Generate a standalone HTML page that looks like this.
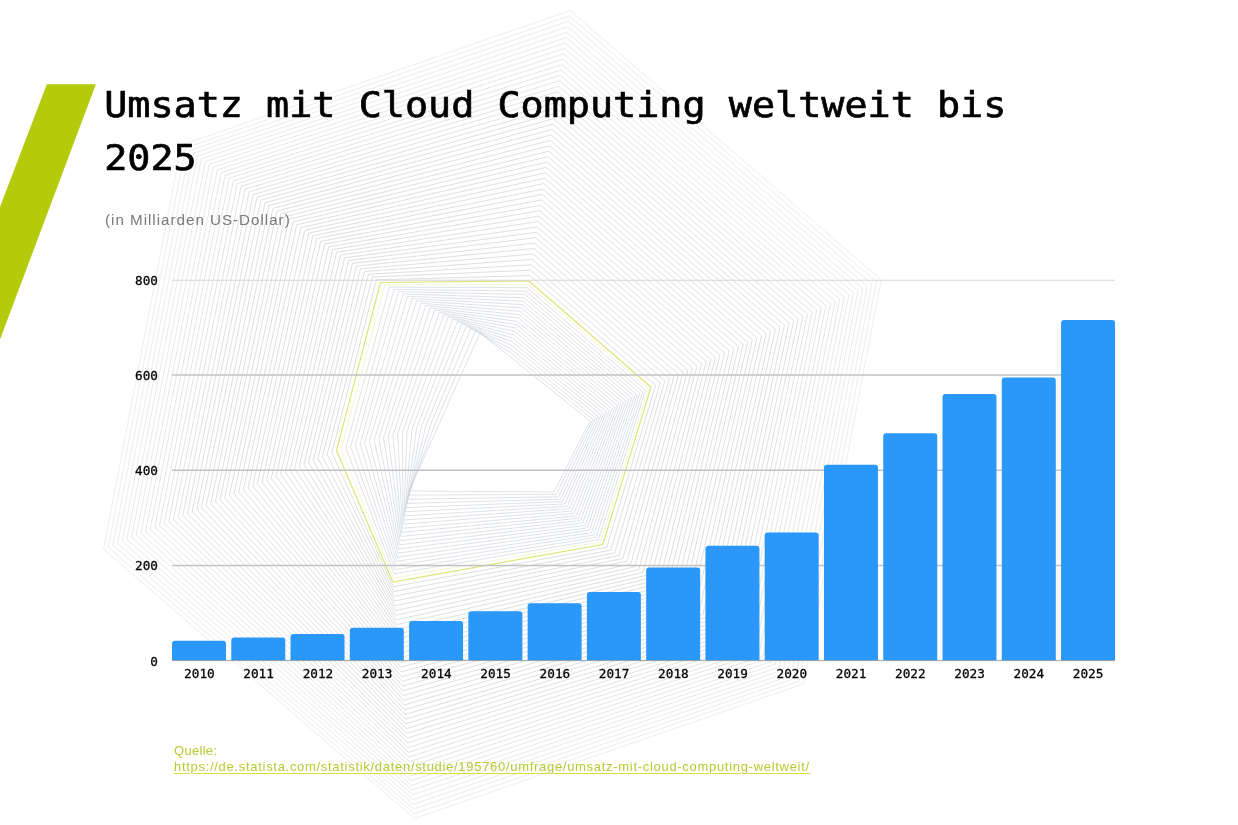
<!DOCTYPE html>
<html lang="de"><head><meta charset="utf-8"><title>Umsatz mit Cloud Computing weltweit bis 2025</title>
<style>
html,body{margin:0;padding:0;background:#fff;}
body{width:1238px;height:825px;position:relative;overflow:hidden;font-family:"Liberation Sans",sans-serif;}
svg{position:absolute;left:0;top:0;display:block}
.title{position:absolute;left:104.2px;top:77.8px;width:1100px;margin:0;font-family:"DejaVu Sans Mono","Liberation Mono",monospace;font-weight:400;font-size:38.44px;line-height:59.2px;color:#000;white-space:pre;-webkit-text-stroke:0.75px #000;transform:scaleY(0.905);transform-origin:0 0;}
.sub{position:absolute;left:105px;top:210px;margin:0;font-size:15.2px;line-height:20px;color:#7a7a7a;white-space:nowrap;letter-spacing:0.98px}
.src{position:absolute;left:174px;top:742.7px;margin:0;font-size:13px;line-height:16.1px;color:#b9ca30;white-space:nowrap;letter-spacing:0.3px}
.src a{color:#b9ca30;text-decoration:underline;text-decoration-color:#d2e03c;text-underline-offset:2.1px;text-decoration-thickness:1.2px;letter-spacing:0.7px}
.tick{font-family:"DejaVu Sans Mono","Liberation Mono",monospace;font-weight:400;font-size:12.7px;fill:#000;stroke:#000;stroke-width:0.28px}
.tick text{transform-box:fill-box;transform-origin:50% 70%;transform:scaleY(0.91)}
</style></head><body>
<svg width="1238" height="825" viewBox="0 0 1238 825" xmlns="http://www.w3.org/2000/svg">
<g fill="none" stroke="#bcbfc2" stroke-width="0.6">
<polygon points="570.2,10.5 881.2,279.9 803.4,683.9 414.6,818.5 103.6,549.1 181.4,145.1" stroke-opacity="0.45"/>
<polygon points="569.4,15.9 876.5,282.0 799.3,681.1 414.2,813.8 108.3,547.1 185.4,147.9" stroke-opacity="0.47"/>
<polygon points="568.5,21.3 871.9,284.2 795.3,678.3 413.7,809.0 113.0,545.2 189.4,150.6" stroke-opacity="0.49"/>
<polygon points="567.7,26.8 867.3,286.3 791.3,675.5 413.3,804.3 117.6,543.2 193.4,153.4" stroke-opacity="0.51"/>
<polygon points="566.9,32.2 862.7,288.5 787.3,672.7 412.9,799.6 122.3,541.2 197.4,156.1" stroke-opacity="0.53"/>
<polygon points="566.1,37.6 858.1,290.6 783.3,669.9 412.4,794.8 126.9,539.3 201.3,158.9" stroke-opacity="0.55"/>
<polygon points="565.3,43.0 853.5,292.8 779.3,667.1 412.0,790.1 131.6,537.3 205.3,161.6" stroke-opacity="0.57"/>
<polygon points="564.4,48.4 848.9,294.9 775.3,664.3 411.6,785.4 136.2,535.3 209.3,164.4" stroke-opacity="0.59"/>
<polygon points="563.6,53.8 844.3,297.1 771.3,661.6 411.1,780.7 140.9,533.4 213.3,167.1" stroke-opacity="0.61"/>
<polygon points="562.8,59.2 839.7,299.2 767.3,658.8 410.7,775.9 145.6,531.4 217.3,169.9" stroke-opacity="0.63"/>
<polygon points="562.0,64.6 835.1,301.4 763.2,656.0 410.2,771.2 150.2,529.4 221.2,172.6" stroke-opacity="0.65"/>
<polygon points="561.1,70.0 830.5,303.5 759.2,653.2 409.8,766.5 154.9,527.4 225.2,175.4" stroke-opacity="0.67"/>
<polygon points="560.3,75.4 825.9,305.7 755.2,650.4 409.4,761.7 159.5,525.5 229.2,178.1" stroke-opacity="0.69"/>
<polygon points="559.5,80.8 821.3,307.8 751.2,647.6 408.9,757.0 164.2,523.5 233.2,180.9" stroke-opacity="0.71"/>
<polygon points="558.7,86.3 816.7,310.0 747.2,644.8 408.5,752.3 168.8,521.5 237.2,183.6" stroke-opacity="0.73"/>
<polygon points="557.8,91.7 812.1,312.1 743.2,642.1 408.1,747.6 173.5,519.6 241.1,186.3" stroke-opacity="0.75"/>
<polygon points="557.0,97.1 807.5,314.3 739.2,639.3 407.6,742.8 178.2,517.6 245.1,189.1" stroke-opacity="0.77"/>
<polygon points="556.2,102.5 802.9,316.4 735.2,636.5 407.2,738.1 182.8,515.6 249.1,191.8" stroke-opacity="0.79"/>
<polygon points="555.4,107.9 798.3,318.6 731.2,633.7 406.8,733.4 187.5,513.7 253.1,194.6" stroke-opacity="0.81"/>
<polygon points="554.5,113.3 793.7,320.7 727.1,630.9 406.3,728.7 192.1,511.7 257.0,197.3" stroke-opacity="0.83"/>
<polygon points="553.7,118.7 789.1,322.8 723.1,628.1 405.9,723.9 196.8,509.7 261.0,200.1" stroke-opacity="0.85"/>
<polygon points="552.9,124.1 784.5,325.0 719.1,625.3 405.4,719.2 201.4,507.7 265.0,202.8" stroke-opacity="0.85"/>
<polygon points="552.1,129.5 779.9,327.1 715.1,622.5 405.0,714.5 206.1,505.8 269.0,205.6" stroke-opacity="0.85"/>
<polygon points="551.2,134.9 775.3,329.3 711.1,619.8 404.6,709.7 210.8,503.8 273.0,208.3" stroke-opacity="0.85"/>
<polygon points="550.4,140.4 770.7,331.4 707.1,617.0 404.1,705.0 215.4,501.8 276.9,211.1" stroke-opacity="0.85"/>
<polygon points="549.6,145.8 766.1,333.6 703.1,614.2 403.7,700.3 220.1,499.9 280.9,213.8" stroke-opacity="0.85"/>
<polygon points="548.8,151.2 761.5,335.7 699.1,611.4 403.3,695.6 224.7,497.9 284.9,216.6" stroke-opacity="0.85"/>
<polygon points="547.9,156.6 756.9,337.9 695.1,608.6 402.8,690.8 229.4,495.9 288.9,219.3" stroke-opacity="0.85"/>
<polygon points="547.1,162.0 752.3,340.0 691.0,605.8 402.4,686.1 234.0,493.9 292.9,222.1" stroke-opacity="0.85"/>
<polygon points="546.3,167.4 747.7,342.2 687.0,603.0 402.0,681.4 238.7,492.0 296.8,224.8" stroke-opacity="0.85"/>
<polygon points="545.5,172.8 743.1,344.3 683.0,600.2 401.5,676.7 243.4,490.0 300.8,227.6" stroke-opacity="0.85"/>
<polygon points="544.7,178.2 738.5,346.5 679.0,597.5 401.1,671.9 248.0,488.0 304.8,230.3" stroke-opacity="0.85"/>
<polygon points="543.8,183.6 733.9,348.6 675.0,594.7 400.7,667.2 252.7,486.1 308.8,233.1" stroke-opacity="0.85"/>
<polygon points="543.0,189.0 729.3,350.8 671.0,591.9 400.2,662.5 257.3,484.1 312.8,235.8" stroke-opacity="0.85"/>
<polygon points="542.2,194.4 724.6,352.9 667.0,589.1 399.8,657.7 262.0,482.1 316.7,238.5" stroke-opacity="0.85"/>
<polygon points="541.4,199.9 720.0,355.1 663.0,586.3 399.3,653.0 266.6,480.2 320.7,241.3" stroke-opacity="0.85"/>
<polygon points="540.5,205.3 715.4,357.2 659.0,583.5 398.9,648.3 271.3,478.2 324.7,244.0" stroke-opacity="0.85"/>
<polygon points="539.7,210.7 710.8,359.4 654.9,580.7 398.5,643.6 276.0,476.2 328.7,246.8" stroke-opacity="0.85"/>
<polygon points="538.9,216.1 706.2,361.5 650.9,577.9 398.0,638.8 280.6,474.2 332.7,249.5" stroke-opacity="0.85"/>
<polygon points="538.1,221.5 701.6,363.7 646.9,575.2 397.6,634.1 285.3,472.3 336.6,252.3" stroke-opacity="0.85"/>
<polygon points="537.2,226.9 697.0,365.8 642.9,572.4 397.2,629.4 289.9,470.3 340.6,255.0" stroke-opacity="0.85"/>
<polygon points="536.4,232.3 692.4,368.0 638.9,569.6 396.7,624.6 294.6,468.3 344.6,257.8" stroke-opacity="0.85"/>
<polygon points="535.6,237.7 687.8,370.1 634.9,566.8 396.3,619.9 299.2,466.4 348.6,260.5" stroke-opacity="0.85"/>
<polygon points="534.8,243.1 683.2,372.3 630.9,564.0 395.9,615.2 303.9,464.4 352.5,263.3" stroke-opacity="0.85"/>
<polygon points="533.9,248.5 678.6,374.4 626.9,561.2 395.4,610.5 308.6,462.4 356.5,266.0" stroke-opacity="0.85"/>
<polygon points="533.1,254.0 674.0,376.6 622.9,558.4 395.0,605.7 313.2,460.5 360.5,268.8" stroke-opacity="0.85"/>
<polygon points="532.3,259.4 669.4,378.7 618.8,555.6 394.5,601.0 317.9,458.5 364.5,271.5" stroke-opacity="0.85"/>
<polygon points="531.5,264.8 664.8,380.9 614.8,552.9 394.1,596.3 322.5,456.5 368.5,274.3" stroke-opacity="0.85"/>
<polygon points="530.6,270.2 660.2,383.0 610.8,550.1 393.7,591.6 327.2,454.5 372.4,277.0" stroke-opacity="0.85"/>
<polygon points="529.8,275.6 655.6,385.2 606.8,547.3 393.2,586.8 331.8,452.6 376.4,279.8" stroke-opacity="0.85"/>
</g>
<g fill="none" stroke="#bcc3ce" stroke-width="0.55" stroke-opacity="0.9">
<polygon points="528.0,284.4 648.2,388.8 600.6,542.1 393.5,578.0 341.2,449.3 384.9,284.8" stroke="#e6ecb4"/>
<polygon points="527.1,287.7 645.5,390.4 598.4,539.7 394.3,573.8 345.9,448.0 389.5,287.1"/>
<polygon points="526.1,291.1 642.7,391.9 596.1,537.3 395.0,569.7 350.6,446.7 394.0,289.4"/>
<polygon points="525.2,294.5 639.9,393.4 593.9,535.0 395.7,565.5 355.3,445.4 398.5,291.7"/>
<polygon points="524.2,297.8 637.1,395.0 591.7,532.6 396.5,561.4 360.0,444.1 403.0,294.0"/>
<polygon points="523.3,301.2 634.4,396.5 589.5,530.2 397.2,557.3 364.7,442.8 407.6,296.3"/>
<polygon points="522.3,304.5 631.6,398.0 587.3,527.8 398.0,553.1 369.4,441.5 412.1,298.6"/>
<polygon points="521.4,307.9 628.8,399.6 585.1,525.4 398.7,549.0 374.1,440.2 416.6,300.9"/>
<polygon points="520.4,311.3 626.0,401.1 582.8,523.0 399.4,544.8 378.8,438.9 421.1,303.2"/>
<polygon points="519.5,314.6 623.3,402.6 580.6,520.6 400.2,540.7 383.5,437.6 425.7,305.5"/>
<polygon points="518.5,318.0 620.5,404.1 578.4,518.2 400.9,536.5 388.2,436.3 430.2,307.8"/>
<polygon points="517.5,321.4 617.7,405.7 576.2,515.9 401.6,532.4 393.0,435.0 434.7,310.0"/>
<polygon points="516.6,324.7 615.0,407.2 574.0,513.5 402.4,528.3 397.7,433.7 439.3,312.3"/>
<polygon points="515.6,328.1 612.2,408.7 571.7,511.1 403.1,524.1 402.4,432.4 443.8,314.6"/>
<polygon points="514.7,331.5 609.4,410.3 569.5,508.7 403.8,520.0 407.1,431.1 448.3,316.9"/>
<polygon points="513.7,334.8 606.6,411.8 567.3,506.3 404.6,515.8 411.8,429.8 452.8,319.2"/>
<polygon points="512.8,338.2 603.9,413.3 565.1,503.9 405.3,511.7 416.5,428.5 457.4,321.5"/>
<polygon points="511.8,341.5 601.1,414.9 562.9,501.5 406.1,507.6 421.2,427.2 461.9,323.8"/>
<polygon points="510.9,344.9 598.3,416.4 560.7,499.2 406.8,503.4 425.9,425.9 466.4,326.1"/>
<polygon points="509.9,348.3 595.5,417.9 558.4,496.8 407.5,499.3 430.6,424.6 470.9,328.4"/>
<polygon points="509.0,351.6 592.8,419.5 556.2,494.4 408.3,495.1 435.3,423.3 475.5,330.7"/>
<polygon points="508.0,355.0 590.0,421.0 554.0,492.0 409.0,491.0 440.0,422.0 480.0,333.0"/>
</g>
<polygon points="529.0,281.0 651.0,387.3 602.8,544.5 392.8,582.1 336.5,450.6 380.4,282.5" fill="none" stroke="#dde575" stroke-width="1.2"/>
<polygon points="46.8,84.2 95.9,84.2 0,339.5 0,207" fill="#b6ca0c"/>
<line x1="172" x2="1115" y1="280.2" y2="280.2" stroke="#d6d6d6" stroke-width="1.1"/>
<line x1="172" x2="1115" y1="375.0" y2="375.0" stroke="#c2c2c2" stroke-width="1.5"/>
<line x1="172" x2="1115" y1="470.3" y2="470.3" stroke="#c2c2c2" stroke-width="1.5"/>
<line x1="172" x2="1115" y1="565.6" y2="565.6" stroke="#c2c2c2" stroke-width="1.5"/>
<g fill="#2a98f8">
<path d="M172.00 660.50 V643.80 Q172.00 640.80 175.00 640.80 H223.00 Q226.00 640.80 226.00 643.80 V660.50 Z"/>
<path d="M231.27 660.50 V640.50 Q231.27 637.50 234.27 637.50 H282.27 Q285.27 637.50 285.27 640.50 V660.50 Z"/>
<path d="M290.54 660.50 V636.90 Q290.54 633.90 293.54 633.90 H341.54 Q344.54 633.90 344.54 636.90 V660.50 Z"/>
<path d="M349.81 660.50 V630.80 Q349.81 627.80 352.81 627.80 H400.81 Q403.81 627.80 403.81 630.80 V660.50 Z"/>
<path d="M409.08 660.50 V624.00 Q409.08 621.00 412.08 621.00 H460.08 Q463.08 621.00 463.08 624.00 V660.50 Z"/>
<path d="M468.35 660.50 V614.30 Q468.35 611.30 471.35 611.30 H519.35 Q522.35 611.30 522.35 614.30 V660.50 Z"/>
<path d="M527.62 660.50 V606.20 Q527.62 603.20 530.62 603.20 H578.62 Q581.62 603.20 581.62 606.20 V660.50 Z"/>
<path d="M586.89 660.50 V595.00 Q586.89 592.00 589.89 592.00 H637.89 Q640.89 592.00 640.89 595.00 V660.50 Z"/>
<path d="M646.16 660.50 V570.60 Q646.16 567.60 649.16 567.60 H697.16 Q700.16 567.60 700.16 570.60 V660.50 Z"/>
<path d="M705.43 660.50 V548.70 Q705.43 545.70 708.43 545.70 H756.43 Q759.43 545.70 759.43 548.70 V660.50 Z"/>
<path d="M764.70 660.50 V535.50 Q764.70 532.50 767.70 532.50 H815.70 Q818.70 532.50 818.70 535.50 V660.50 Z"/>
<path d="M823.97 660.50 V467.70 Q823.97 464.70 826.97 464.70 H874.97 Q877.97 464.70 877.97 467.70 V660.50 Z"/>
<path d="M883.24 660.50 V436.20 Q883.24 433.20 886.24 433.20 H934.24 Q937.24 433.20 937.24 436.20 V660.50 Z"/>
<path d="M942.51 660.50 V396.90 Q942.51 393.90 945.51 393.90 H993.51 Q996.51 393.90 996.51 396.90 V660.50 Z"/>
<path d="M1001.78 660.50 V380.60 Q1001.78 377.60 1004.78 377.60 H1052.78 Q1055.78 377.60 1055.78 380.60 V660.50 Z"/>
<path d="M1061.05 660.50 V323.10 Q1061.05 320.10 1064.05 320.10 H1112.05 Q1115.05 320.10 1115.05 323.10 V660.50 Z"/>
</g>
<line x1="172" x2="1115" y1="660.6" y2="660.6" stroke="#8d99a6" stroke-width="0.9"/>
<g class="tick" text-anchor="middle">
<text x="199.4" y="678.0">2010</text>
<text x="258.6" y="678.0">2011</text>
<text x="317.9" y="678.0">2012</text>
<text x="377.1" y="678.0">2013</text>
<text x="436.4" y="678.0">2014</text>
<text x="495.6" y="678.0">2015</text>
<text x="554.9" y="678.0">2016</text>
<text x="614.1" y="678.0">2017</text>
<text x="673.4" y="678.0">2018</text>
<text x="732.6" y="678.0">2019</text>
<text x="791.8" y="678.0">2020</text>
<text x="851.1" y="678.0">2021</text>
<text x="910.3" y="678.0">2022</text>
<text x="969.6" y="678.0">2023</text>
<text x="1028.8" y="678.0">2024</text>
<text x="1088.1" y="678.0">2025</text>
</g>
<g class="tick" text-anchor="end">
<text x="158" y="284.9">800</text>
<text x="158" y="379.7">600</text>
<text x="158" y="474.8">400</text>
<text x="158" y="570.1">200</text>
<text x="158" y="665.8">0</text>
</g>
</svg>
<h1 class="title">Umsatz mit Cloud Computing weltweit bis
2025</h1>
<p class="sub">(in Milliarden US-Dollar)</p>
<p class="src">Quelle:<br><a>https://de.statista.com/statistik/daten/studie/195760/umfrage/umsatz-mit-cloud-computing-weltweit/</a></p>
</body></html>
